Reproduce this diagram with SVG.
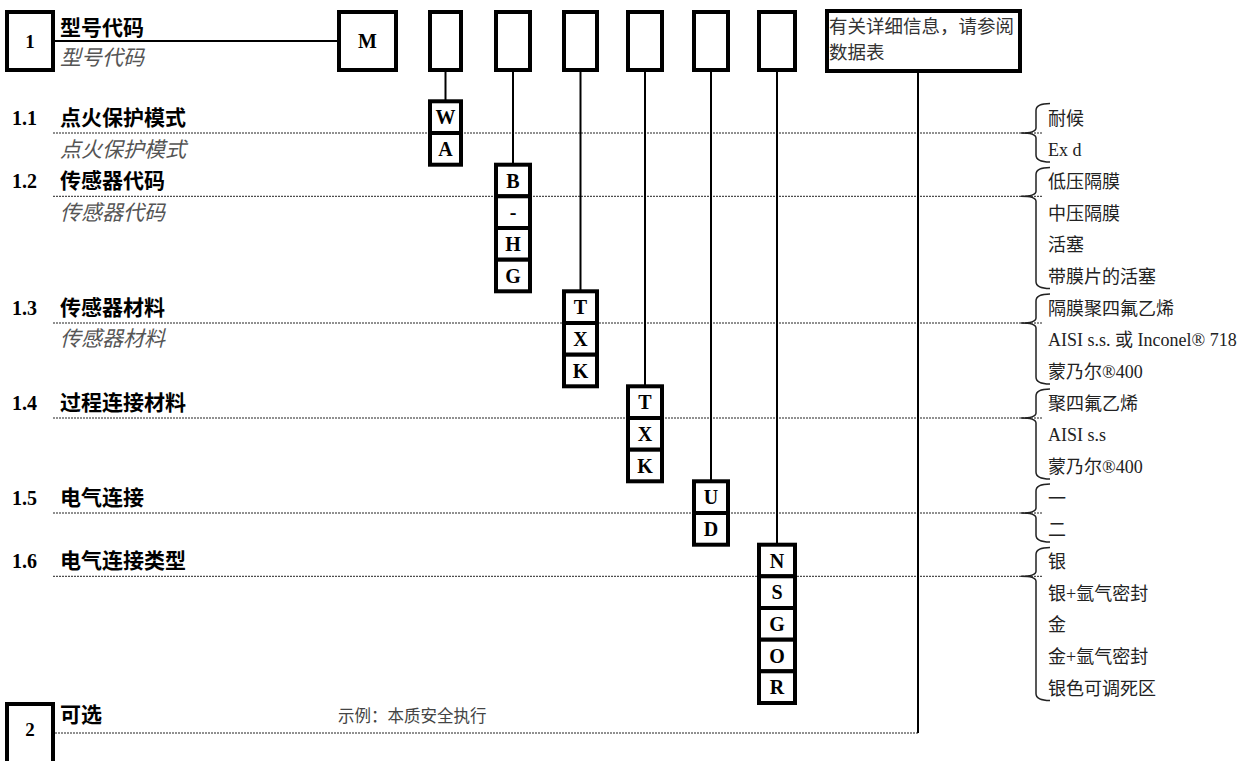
<svg xmlns="http://www.w3.org/2000/svg" width="1255" height="761" viewBox="0 0 1255 761">
<style>
.box{fill:#fff;stroke:#000;stroke-width:4}
.conn{stroke:#000;stroke-width:2;fill:none}
.dot{stroke:#222;stroke-width:1;stroke-dasharray:2 1;fill:none}
.brace{stroke:#222;stroke-width:1.5;fill:none}
.num{font-family:"Liberation Serif",serif;font-weight:bold;font-size:20px}
.bn{font-family:"Liberation Serif",serif;font-weight:bold;font-size:19px;text-anchor:middle}
.code{font-family:"Liberation Serif",serif;font-weight:bold;font-size:20px;text-anchor:middle}
.lbl{font-family:"Noto Sans CJK SC",sans-serif;font-weight:bold;font-size:21px}
.sub{font-family:"Noto Sans CJK SC",sans-serif;font-style:italic;font-size:21px;fill:#555}
.opt{font-family:"Liberation Serif","Noto Sans CJK SC",serif;font-size:18px;fill:#222}
.info{font-family:"Noto Sans CJK SC",sans-serif;font-size:18.5px;fill:#333}
.ex{font-family:"Noto Sans CJK SC",sans-serif;font-size:16.5px;fill:#444}
</style>
<rect width="1255" height="761" fill="#fff"/>

<g id="guides">
<line class="dot" x1="53" y1="133" x2="1043" y2="133"/>
<line class="dot" x1="53" y1="196.3" x2="1043" y2="196.3"/>
<line class="dot" x1="53" y1="323" x2="1043" y2="323"/>
<line class="dot" x1="53" y1="418" x2="1043" y2="418"/>
<line class="dot" x1="53" y1="513" x2="1043" y2="513"/>
<line class="dot" x1="53" y1="576.3" x2="1043" y2="576.3"/>
<line class="dot" x1="55" y1="733" x2="918" y2="733"/>
</g>

<g id="connectors">
<line class="conn" x1="55" y1="41" x2="337" y2="41"/>
<line class="conn" x1="445.5" y1="72" x2="445.5" y2="101.3"/>
<line class="conn" x1="513" y1="72" x2="513" y2="164.7"/>
<line class="conn" x1="580.5" y1="72" x2="580.5" y2="291.3"/>
<line class="conn" x1="645" y1="72" x2="645" y2="386.3"/>
<line class="conn" x1="711" y1="72" x2="711" y2="481.3"/>
<line class="conn" x1="777" y1="72" x2="777" y2="544.7"/>
<line class="conn" x1="918" y1="73" x2="918" y2="733"/>
</g>

<g id="braces">
<path class="brace" d="M1050,103.5 Q1036,103.5 1036,110.5 V128 Q1036,133 1021,133 Q1036,133 1036,138 V155 Q1036,162 1050,162"/>
<path class="brace" d="M1050,167.5 Q1036,167.5 1036,174.5 V191.3 Q1036,196.3 1021,196.3 Q1036,196.3 1036,201.3 V281.5 Q1036,288.5 1050,288.5"/>
<path class="brace" d="M1050,294 Q1036,294 1036,301 V318 Q1036,323 1021,323 Q1036,323 1036,328 V377 Q1036,384 1050,384"/>
<path class="brace" d="M1050,389 Q1036,389 1036,396 V413 Q1036,418 1021,418 Q1036,418 1036,423 V472 Q1036,479 1050,479"/>
<path class="brace" d="M1050,484 Q1036,484 1036,491 V508 Q1036,513 1021,513 Q1036,513 1036,518 V535 Q1036,542 1050,542"/>
<path class="brace" d="M1050,547.5 Q1036,547.5 1036,554.5 V571.3 Q1036,576.3 1021,576.3 Q1036,576.3 1036,581.3 V693.5 Q1036,700.5 1050,700.5"/>
</g>

<g id="node-1">
<rect class="box" x="7" y="12" width="46" height="58"/>
<text class="bn" x="30" y="48">1</text>
<text class="lbl" x="60" y="35">型号代码</text>
<text class="sub" x="60" y="65">型号代码</text>
</g>
<g id="node-M">
<rect class="box" x="339" y="12" width="57" height="58"/>
<text class="code" x="367.5" y="48">M</text>
</g>
<g id="slots">
<rect class="box" x="430" y="12" width="31" height="58"/>
<rect class="box" x="496" y="12" width="34" height="58"/>
<rect class="box" x="564" y="12" width="33" height="58"/>
<rect class="box" x="628" y="12" width="34" height="58"/>
<rect class="box" x="694" y="12" width="34" height="58"/>
<rect class="box" x="759" y="12" width="36" height="58"/>
</g>
<g id="node-info">
<rect class="box" x="827" y="11" width="193" height="60"/>
<text class="info" x="829" y="33">有关详细信息，请参阅</text>
<text class="info" x="829" y="59">数据表</text>
</g>

<g id="row-1-1">
<text class="num" x="12" y="125">1.1</text>
<text class="lbl" x="60" y="125">点火保护模式</text>
<text class="sub" x="60" y="157">点火保护模式</text>
<rect class="box" x="430" y="101.3" width="31" height="31.7"/>
<rect class="box" x="430" y="133" width="31" height="31.7"/>
<text class="code" x="445.5" y="124">W</text>
<text class="code" x="445.5" y="155.7">A</text>
<text class="opt" x="1048" y="125">耐候</text>
<text class="opt" x="1048" y="156.3">Ex d</text>
</g>

<g id="row-1-2">
<text class="num" x="12" y="188">1.2</text>
<text class="lbl" x="60" y="188">传感器代码</text>
<text class="sub" x="60" y="219.7">传感器代码</text>
<rect class="box" x="496" y="164.7" width="34" height="31.6"/>
<rect class="box" x="496" y="196.3" width="34" height="31.7"/>
<rect class="box" x="496" y="228" width="34" height="31.7"/>
<rect class="box" x="496" y="259.7" width="34" height="31.6"/>
<text class="code" x="513" y="187.5">B</text>
<text class="code" x="513" y="219.2">-</text>
<text class="code" x="513" y="250.8">H</text>
<text class="code" x="513" y="282.5">G</text>
<text class="opt" x="1048" y="188">低压隔膜</text>
<text class="opt" x="1048" y="219.7">中压隔膜</text>
<text class="opt" x="1048" y="251.3">活塞</text>
<text class="opt" x="1048" y="283">带膜片的活塞</text>
</g>

<g id="row-1-3">
<text class="num" x="12" y="314.7">1.3</text>
<text class="lbl" x="60" y="314.7">传感器材料</text>
<text class="sub" x="60" y="346.3">传感器材料</text>
<rect class="box" x="564" y="291.3" width="33" height="31.7"/>
<rect class="box" x="564" y="323" width="33" height="31.7"/>
<rect class="box" x="564" y="354.7" width="33" height="31.6"/>
<text class="code" x="580.5" y="314.2">T</text>
<text class="code" x="580.5" y="345.8">X</text>
<text class="code" x="580.5" y="377.5">K</text>
<text class="opt" x="1048" y="314.7">隔膜聚四氟乙烯</text>
<text class="opt" x="1048" y="346.3">AISI s.s. 或 Inconel® 718</text>
<text class="opt" x="1048" y="378">蒙乃尔®400</text>
</g>

<g id="row-1-4">
<text class="num" x="12" y="409.7">1.4</text>
<text class="lbl" x="60" y="409.7">过程连接材料</text>
<rect class="box" x="628" y="386.3" width="34" height="31.7"/>
<rect class="box" x="628" y="418" width="34" height="31.7"/>
<rect class="box" x="628" y="449.7" width="34" height="31.6"/>
<text class="code" x="645" y="409.2">T</text>
<text class="code" x="645" y="440.8">X</text>
<text class="code" x="645" y="472.5">K</text>
<text class="opt" x="1048" y="409.7">聚四氟乙烯</text>
<text class="opt" x="1048" y="441.3">AISI s.s</text>
<text class="opt" x="1048" y="473">蒙乃尔®400</text>
</g>

<g id="row-1-5">
<text class="num" x="12" y="504.7">1.5</text>
<text class="lbl" x="60" y="504.7">电气连接</text>
<rect class="box" x="694" y="481.3" width="34" height="31.7"/>
<rect class="box" x="694" y="513" width="34" height="31.7"/>
<text class="code" x="711" y="504.2">U</text>
<text class="code" x="711" y="535.8">D</text>
<text class="opt" x="1048" y="504.7">一</text>
<text class="opt" x="1048" y="536.3">二</text>
</g>

<g id="row-1-6">
<text class="num" x="12" y="568">1.6</text>
<text class="lbl" x="60" y="568">电气连接类型</text>
<rect class="box" x="759" y="544.7" width="36" height="31.6"/>
<rect class="box" x="759" y="576.3" width="36" height="31.7"/>
<rect class="box" x="759" y="608" width="36" height="31.7"/>
<rect class="box" x="759" y="639.7" width="36" height="31.6"/>
<rect class="box" x="759" y="671.3" width="36" height="31.7"/>
<text class="code" x="777" y="567.5">N</text>
<text class="code" x="777" y="599.2">S</text>
<text class="code" x="777" y="630.8">G</text>
<text class="code" x="777" y="662.5">O</text>
<text class="code" x="777" y="694.2">R</text>
<text class="opt" x="1048" y="568">银</text>
<text class="opt" x="1048" y="599.7">银+氩气密封</text>
<text class="opt" x="1048" y="631.3">金</text>
<text class="opt" x="1048" y="663">金+氩气密封</text>
<text class="opt" x="1048" y="694.7">银色可调死区</text>
</g>

<g id="node-2">
<rect class="box" x="7" y="704" width="46" height="70"/>
<text class="bn" x="30" y="736">2</text>
<text class="lbl" x="60" y="722">可选</text>
<text class="ex" x="338" y="722">示例：本质安全执行</text>
</g>
</svg>
